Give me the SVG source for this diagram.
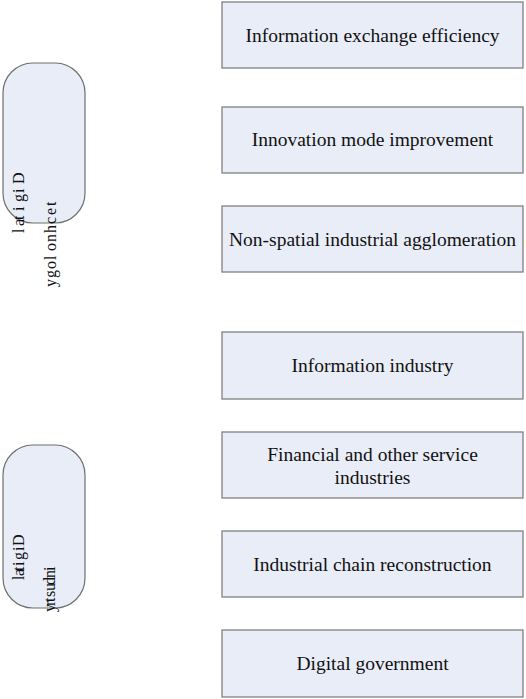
<svg xmlns="http://www.w3.org/2000/svg" width="526" height="699" viewBox="0 0 526 699">
<style>
.box{fill:#e9edf8;stroke:#808080;stroke-width:1.3}
.pill{fill:#e9edf8;stroke:#6f6f6f;stroke-width:1.2}
.lbl{font-family:"Liberation Serif","Times New Roman",serif;font-size:19.5px;fill:#111;text-anchor:middle}
.vt{font-family:"Liberation Serif","Times New Roman",serif;font-size:16px;fill:#111}
</style>
<rect width="526" height="699" fill="#ffffff"/>
<g id="pill1">
<rect class="pill" x="3" y="63" width="82" height="160" rx="30" ry="30"/>
<text class="vt" x="24 24 24 24 24 24 24" y="184 193 202 211 220 226 233" rotate="-90">Digital</text>
<text class="vt" x="56 56 56 56 56 56 56 56 56 56" y="206 215 224 233 242 251 260 269 278 287" rotate="-90">technology</text>
</g>
<g id="pill2">
<rect class="pill" x="3" y="445" width="82" height="163" rx="30" ry="30"/>
<text class="vt" x="24 24 24 24 24 24 24" y="546 551 560 566 571 576 580" rotate="-90">Digital</text>
<text class="vt" x="55 55 55 55 55 55 55 55" y="571 578 585 591 597 602 606 612" rotate="-90">industry</text>
</g>
<g id="connectors"></g>
<g id="n1"><rect class="box" x="222" y="2" width="301" height="66"/><text class="lbl" x="372.5" y="42">Information exchange efficiency</text></g>
<g id="n2"><rect class="box" x="222" y="107" width="301" height="66"/><text class="lbl" x="372.5" y="146">Innovation mode improvement</text></g>
<g id="n3"><rect class="box" x="222" y="206" width="301" height="66"/><text class="lbl" x="372.5" y="246">Non-spatial industrial agglomeration</text></g>
<g id="n4"><rect class="box" x="222" y="332" width="301" height="67"/><text class="lbl" x="372.5" y="372">Information industry</text></g>
<g id="n5"><rect class="box" x="222" y="432" width="301" height="66"/><text class="lbl" x="372.5" y="461">Financial and other service</text><text class="lbl" x="372.5" y="484">industries</text></g>
<g id="n6"><rect class="box" x="222" y="531" width="301" height="66"/><text class="lbl" x="372.5" y="571">Industrial chain reconstruction</text></g>
<g id="n7"><rect class="box" x="222" y="630" width="301" height="67"/><text class="lbl" x="372.5" y="670">Digital government</text></g>
</svg>
